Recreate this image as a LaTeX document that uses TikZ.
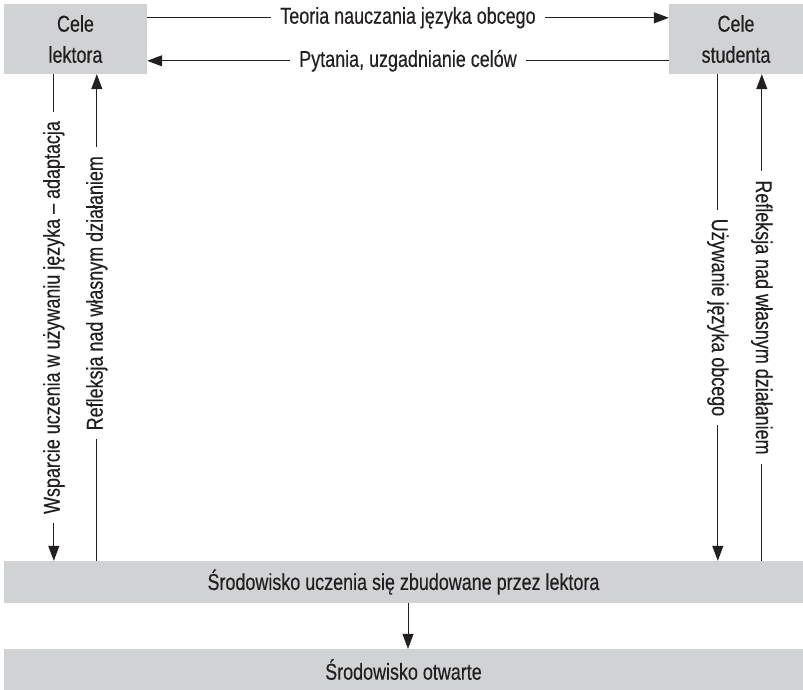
\documentclass[tikz,border=0pt]{standalone}
\usepackage{fontspec}
\setmainfont{Liberation Sans}[FakeStretch=0.78,FakeBold=0.35]
\usetikzlibrary{arrows.meta}
\definecolor{boxgray}{RGB}{209,210,212}
\definecolor{ink}{RGB}{35,31,32}
\begin{document}
\begin{tikzpicture}[x=1pt,y=-1pt,
  box/.style={fill=boxgray, draw=none, inner sep=0pt, align=center, text=ink,
    font=\fontsize{23}{31}\selectfont},
  conn/.style={draw=ink, line width=1pt, -{Triangle[length=15pt,width=11pt]}},
  lbl/.style={fill=white, inner xsep=9pt, inner ysep=1pt, text=ink,
    font=\fontsize{23}{27}\selectfont}]
\useasboundingbox (0,0) rectangle (803,690);
% boxes
\node[box, minimum width=143pt, minimum height=70pt] (L) at (75.5,39) {Cele\\lektora};
\node[box, minimum width=134pt, minimum height=70pt] (R) at (736,39) {Cele\\studenta};
\node[box, minimum width=799pt, minimum height=42pt] (B1) at (403.5,582) {Środowisko uczenia się zbudowane przez lektora};
\node[box, minimum width=799pt, minimum height=41pt] (B2) at (403.5,669.5) {Środowisko otwarte};
% top connectors
\draw[conn] ([yshift=-14pt]L.north east) -- node[lbl]{Teoria nauczania języka obcego} ([yshift=-14pt]R.north west);
\draw[conn] ([yshift=-57pt]R.north west) -- node[lbl]{Pytania, uzgadnianie celów} ([yshift=-57pt]L.north east);
% left verticals
\draw[conn] ([xshift=50pt]L.south west) -- node[lbl, rotate=90]{Wsparcie uczenia w używaniu języka – adaptacja} ([xshift=50pt]B1.north west);
\draw[conn] ([xshift=93pt]B1.north west) -- node[lbl, rotate=90, pos=0.55]{Refleksja nad własnym działaniem} ([xshift=93pt]L.south west);
% right verticals
\draw[conn] ([xshift=49pt]R.south west) -- node[lbl, rotate=-90]{Używanie języka obcego} ([xshift=49pt]B1.north west -| R.south west);
\draw[conn] ([xshift=93pt]B1.north west -| R.south west) -- node[lbl, rotate=-90]{Refleksja nad własnym działaniem} ([xshift=93pt]R.south west);
% bottom connector
\draw[conn] ([xshift=4.5pt]B1.south) -- ([xshift=4.5pt]B2.north);
\end{tikzpicture}
\end{document}
